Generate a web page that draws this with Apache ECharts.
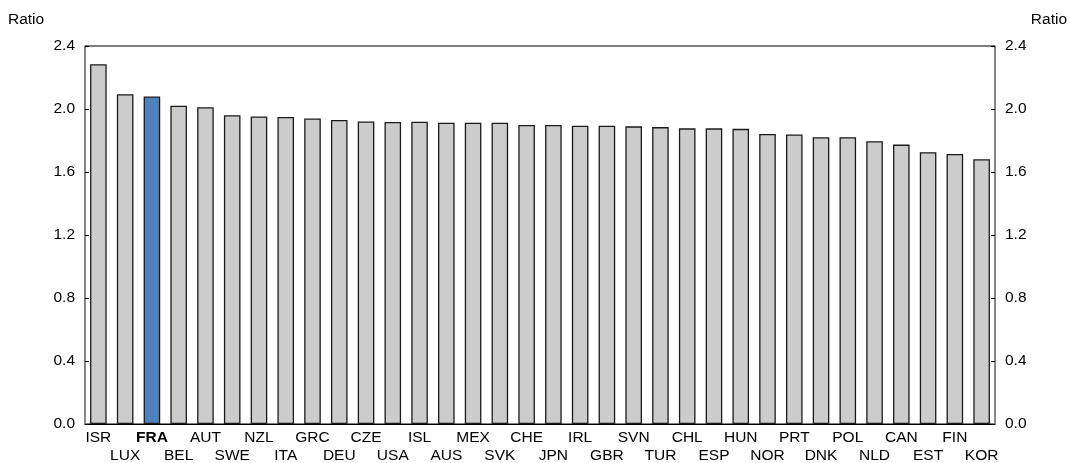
<!DOCTYPE html>
<html><head><meta charset="utf-8">
<script src="https://cdn.jsdelivr.net/npm/echarts@6/dist/echarts.min.js"></script>
<style>html,body{margin:0;padding:0;background:#fff}#c{width:1071px;height:463px}</style>
</head><body><div id="c"></div>
<script>
const categories = ['ISR','LUX','FRA','BEL','AUT','SWE','NZL','ITA','GRC','DEU','CZE','USA','ISL','AUS','MEX','SVK','CHE','JPN','IRL','GBR','SVN','TUR','CHL','ESP','HUN','NOR','PRT','DNK','POL','NLD','CAN','EST','FIN','KOR'];
const values = [2.284,2.094,2.079,2.021,2.011,1.960,1.953,1.949,1.940,1.930,1.921,1.917,1.919,1.913,1.913,1.913,1.898,1.898,1.894,1.894,1.890,1.885,1.877,1.877,1.874,1.842,1.838,1.821,1.821,1.795,1.774,1.726,1.715,1.681];
const highlight = 'FRA';
const yTicks = [0.0,0.4,0.8,1.2,1.6,2.0,2.4];
const axisTitle = 'Ratio';

const font = 'Liberation Sans, Arial, sans-serif';
const fs = 15.5;
const chart = echarts.init(document.getElementById('c'));
const yAxisBase = {
  type:'value', min:yTicks[0], max:yTicks[yTicks.length-1], interval:0.4,
  axisLine:{show:true, lineStyle:{color:'#888', width:1.5}},
  axisTick:{show:true, inside:true, length:4, lineStyle:{color:'#000'}},
  splitLine:{show:false},
  axisLabel:{color:'#000', fontSize:fs, fontFamily:font, margin:10, formatter:v=>v.toFixed(1)}
};
chart.setOption({
  animation:false,
  grid:{left:85, right:76, top:46, bottom:39, outerBoundsMode:'none', containLabel:false, show:true, borderColor:'#000', borderWidth:1, backgroundColor:'transparent'},
  graphic:[
    {type:'text', left:8, top:12, style:{text:axisTitle, fill:'#000', font: fs+'px '+font}},
    {type:'text', right:4, top:12, style:{text:axisTitle, fill:'#000', font: fs+'px '+font}}
  ],
  xAxis:{type:'category', data:categories,
    axisLine:{lineStyle:{color:'#000', width:1}},
    axisTick:{show:false},
    axisLabel:{interval:0, color:'#000', fontSize:fs, fontFamily:font, margin:5, lineHeight:17.5,
      formatter:(v,i)=>{const s = v===highlight ? '{b|'+v+'}' : v; return i%2 ? '\n'+s : s;},
      rich:{b:{fontWeight:'bold', fontSize:fs, fontFamily:font, color:'#000', lineHeight:17.5}}}
  },
  yAxis:[
    Object.assign({}, yAxisBase, {position:'left'}),
    Object.assign({}, yAxisBase, {position:'right'})
  ],
  series:[{type:'bar', yAxisIndex:0, barWidth:'62%',
    data: values.map((v,i)=>({value:v, itemStyle:{color: categories[i]===highlight ? '#4f81bd' : '#cccccc'}})),
    itemStyle:{borderColor:'#1a1a1a', borderWidth:1.3}
  }]
});
</script></body></html>
